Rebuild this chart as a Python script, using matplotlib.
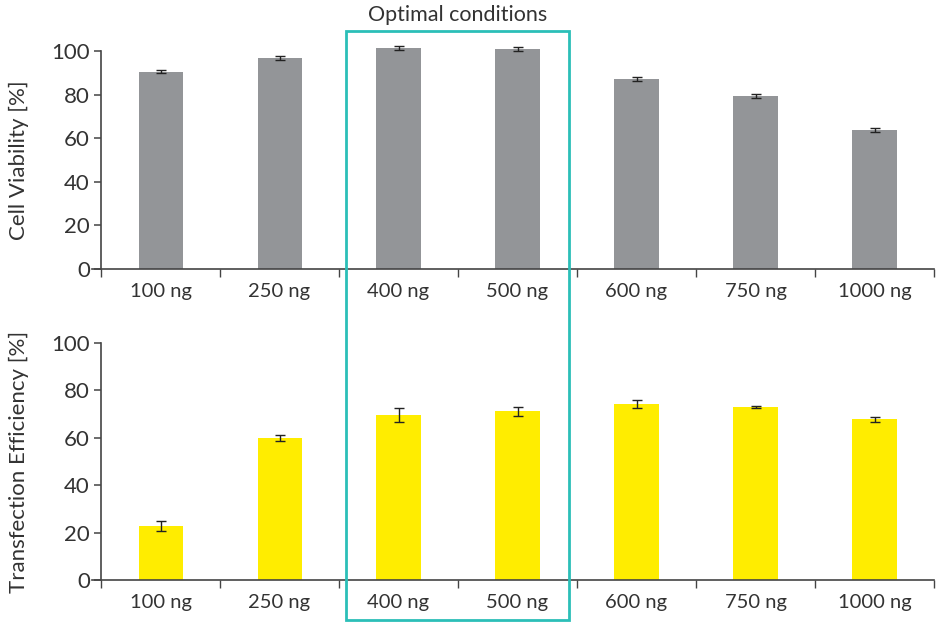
import matplotlib
matplotlib.use("Agg")
import matplotlib.pyplot as plt
import matplotlib.transforms as mtransforms
from matplotlib.patches import Rectangle
import numpy as np

plt.rcParams['font.family'] = ['Lato', 'DejaVu Sans']

categories = ["100 ng", "250 ng", "400 ng", "500 ng", "600 ng", "750 ng", "1000 ng"]
viability = [90.5, 96.8, 101.4, 101.0, 87.2, 79.4, 63.8]
viability_err = [0.8, 0.9, 0.8, 0.8, 1.0, 0.8, 1.0]
efficiency = [22.8, 59.9, 69.6, 71.2, 74.3, 73.0, 67.8]
efficiency_err = [2.0, 1.2, 2.9, 1.9, 1.6, 0.6, 1.0]
yticks = [0, 20, 40, 60, 80, 100]

W, H = 937, 622
fig = plt.figure(figsize=(W / 100, H / 100), dpi=100)

axis_color = "#444444"
text_color = "#333333"


def px_axes(left, right, top, bottom):
    return fig.add_axes([left / W, (H - bottom) / H, (right - left) / W, (bottom - top) / H])


def style_axes(ax, label):
    x = np.arange(len(categories))
    ax.set_xlim(-0.58, len(categories) - 0.5)
    ax.set_ylim(0, 104)
    for s in ("top", "right"):
        ax.spines[s].set_visible(False)
    ax.spines["left"].set_bounds(0, 100)
    ax.spines["left"].set_position(("data", -0.5))
    for s in ("left", "bottom"):
        ax.spines[s].set_color(axis_color)
        ax.spines[s].set_linewidth(1.2)
    ax.set_yticks(yticks)
    ax.tick_params(axis="y", direction="out", length=5, width=1.1, color=axis_color,
                   labelsize=16, labelcolor=text_color, pad=3)
    # boundary ticks between categories, labels at the centres
    ax.set_xticks(np.arange(-0.5, len(categories), 1.0))
    ax.set_xticklabels([])
    ax.set_xticks(x, minor=True)
    ax.set_xticklabels(categories, minor=True)
    ax.tick_params(axis="x", which="major", direction="out", length=6, width=1.0, color=axis_color)
    ax.tick_params(axis="x", which="minor", length=0, labelsize=14.5, labelcolor=text_color, pad=10)
    # y label placed at a fixed distance from the figure's left edge
    trans = mtransforms.blended_transform_factory(fig.transFigure, ax.transAxes)
    fig.text(19 / W, 0.5 * 100 / 104, label, transform=trans, rotation=90,
             ha="center", va="center", fontsize=16, color=text_color)


x = np.arange(len(categories))
bar_w = 0.37

ax1 = px_axes(91.5, 934, 269 - 104 * 2.18, 269)
ax1.bar(x, viability, width=bar_w, color="#939598", zorder=2, clip_on=False)
ax1.errorbar(x, viability, yerr=viability_err, fmt="none", ecolor="#222222",
             elinewidth=1.0, capsize=3.8, capthick=1.0, zorder=3, clip_on=False)
style_axes(ax1, "Cell Viability [%]")

ax2 = px_axes(91.5, 934, 580 - 104 * 2.37, 580)
ax2.bar(x, efficiency, width=bar_w, color="#ffed00", zorder=2)
ax2.errorbar(x, efficiency, yerr=efficiency_err, fmt="none", ecolor="#222222",
             elinewidth=1.0, capsize=3.8, capthick=1.0, zorder=3)
style_axes(ax2, "Transfection Efficiency [%]")

# highlight box around the optimal amounts
trans = mtransforms.blended_transform_factory(ax1.transData, fig.transFigure)
y0 = (H - 620) / H
y1 = (H - 31) / H
box = Rectangle((1.56, y0), 3.43 - 1.56, y1 - y0, transform=trans, fill=False,
                edgecolor="#2bbfb8", linewidth=2.0, clip_on=False, zorder=5)
fig.add_artist(box)
fig.text(2.5, (H - 15) / H, "Optimal conditions", transform=trans, ha="center", va="center",
         fontsize=15.5, color=text_color)

fig.savefig("out.png", dpi=100)
